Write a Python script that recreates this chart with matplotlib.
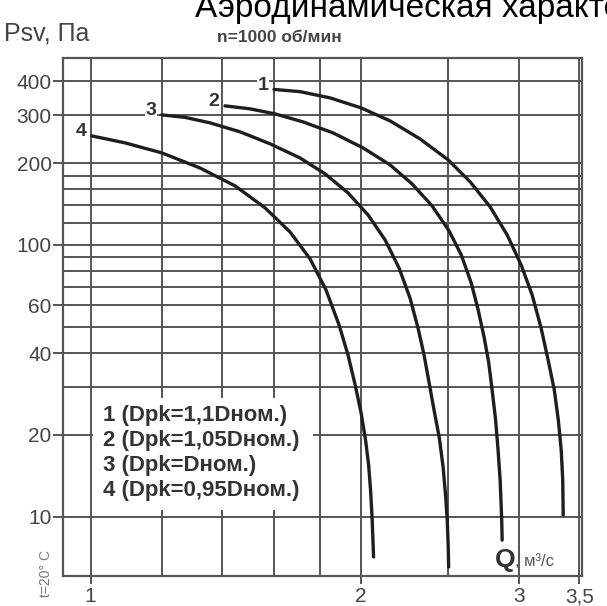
import matplotlib.pyplot as plt
from matplotlib.patches import Rectangle
from matplotlib.ticker import NullFormatter

plt.rcParams['font.family'] = ['Liberation Sans', 'DejaVu Sans']

# curve 1 (Dpk=1,1Dном.)
q1 = [1.600, 1.710, 1.847, 2.000, 2.154, 2.326, 2.500, 2.645, 2.784, 2.908,
      3.014, 3.100, 3.172, 3.230, 3.281, 3.315, 3.340, 3.353, 3.357]
p1 = [373.3, 366.4, 347.5, 319.3, 286.0, 245.5, 205.5, 170.6, 138.0, 108.8,
      84.4, 65.5, 49.5, 37.7, 29.3, 22.7, 17.6, 13.65, 10.15]
# curve 2 (Dpk=1,05Dном.)
q2 = [1.411, 1.504, 1.604, 1.723, 1.861, 2.010, 2.154, 2.279, 2.399, 2.506, 2.585,
      2.652, 2.700, 2.742, 2.773, 2.798, 2.823, 2.841, 2.856, 2.867, 2.871]
p2 = [324.8, 316.7, 303.5, 283.6, 258.4, 227.5, 197.0, 167.7, 139.2, 112.6, 91.9,
      72.5, 57.6, 45.5, 37.1, 29.3, 22.7, 17.6, 13.65, 9.97, 8.2]
# curve 3 (Dpk=Dном.)
q3 = [1.200, 1.274, 1.358, 1.467, 1.584, 1.710, 1.824, 1.934, 2.036, 2.127, 2.204,
      2.267, 2.314, 2.350, 2.380, 2.411, 2.443, 2.468, 2.484, 2.494, 2.500, 2.503]
p3 = [300.9, 294.6, 281.2, 260.6, 235.4, 209.0, 182.5, 155.4, 128.9, 104.3, 82.3,
      63.8, 49.5, 39.4, 31.3, 24.7, 19.65, 15.2, 11.8, 9.72, 7.87, 6.53]
# curve 4 (Dpk=0,95Dном.)
q4 = [1.003, 1.092, 1.200, 1.323, 1.448, 1.564, 1.667, 1.755, 1.828, 1.890,
      1.934, 1.970, 2.000, 2.023, 2.039, 2.049, 2.057, 2.065]
p4 = [251.8, 237.4, 218.1, 192.0, 164.9, 136.8, 111.6, 88.8, 68.3, 50.8,
      39.4, 30.5, 24.1, 19.15, 15.5, 12.54, 9.97, 7.11]

curve_names = ['1', '2', '3', '4']
legend_lines = ['1 (Dpk=1,1Dном.)', '2 (Dpk=1,05Dном.)', '3 (Dpk=Dном.)', '4 (Dpk=0,95Dном.)']

x_major = [1, 2, 3, 3.5]
x_labels = ['1', '2', '3', '3,5']
x_minor = [1.2, 1.4, 1.6, 1.8, 2.5]
y_major = [10, 20, 40, 60, 100, 200, 300, 400]
y_minor = [30, 50, 70, 80, 90, 120, 140, 160, 180]

W, H = 607, 606
fig = plt.figure(figsize=(W / 100, H / 100), dpi=100)
ax = fig.add_axes([62.7 / W, 1 - 576 / H, (581.7 - 62.7) / W, (576 - 57.8) / H])
ax.set_xscale('log')
ax.set_yscale('log')
ax.set_xlim(0.931, 3.52)
ax.set_ylim(6.05, 488)

gc = '#555555'
ax.set_xticks(x_major)
ax.set_xticklabels(x_labels)
ax.set_xticks(x_minor, minor=True)
ax.set_yticks(y_major)
ax.set_yticklabels([str(v) for v in y_major])
ax.set_yticks(y_minor, minor=True)
ax.xaxis.set_minor_formatter(NullFormatter())
ax.yaxis.set_minor_formatter(NullFormatter())
ax.grid(which='both', color=gc, lw=1.4)
ax.tick_params(which='minor', length=0)
ax.tick_params(axis='x', which='major', length=6, width=1.4, color=gc, labelsize=15,
               labelcolor='#444444', pad=2)
ax.tick_params(axis='y', which='major', length=7, width=1.4, color=gc, labelsize=15,
               labelcolor='#444444', pad=1)
for s in ax.spines.values():
    s.set_color(gc)
    s.set_linewidth(1.6)

# white box behind the legend text
ax.add_patch(Rectangle((0.0584, 0.1274), 0.424, 0.216, transform=ax.transAxes,
                       facecolor='white', edgecolor='none', zorder=2))

for q, p, nm in zip([q1, q2, q3, q4], [p1, p2, p3, p4], curve_names):
    ax.plot(q, p, color='#1e1e1e', lw=2.4, solid_capstyle='round', zorder=3)
    ax.annotate(nm, (q[0], p[0]), xytext=(-4, 3), textcoords='offset points',
                ha='right', va='center', fontsize=14, fontweight='bold', color='#333333',
                bbox=dict(facecolor='white', edgecolor='none', pad=0.5), zorder=4)

for i, t in enumerate(legend_lines):
    ax.text(0.0776, 0.3088 - i * 0.0482, t, transform=ax.transAxes, fontsize=16,
            fontweight='bold', color='#333333', va='center', ha='left', zorder=4)

fig.text(195 / W, 1 - 17.5 / H, 'Аэродинамическая характеристика', fontsize=24,
         color='black', va='baseline', ha='left')
fig.text(4 / W, 1 - 33 / H, 'Psv, Па', fontsize=18, color='#444444', va='center', ha='left')
fig.text(217 / W, 1 - 37 / H, 'n=1000 об/мин', fontsize=12.5, fontweight='bold',
         color='#444444', va='center', ha='left')
fig.text(495 / W, 1 - 560 / H, 'Q', fontsize=19, fontweight='bold', color='#333333',
         va='center', ha='left')
fig.text(515 / W, 1 - 562 / H, ', м³/с', fontsize=12, color='#555555', va='center', ha='left')
fig.text(46 / W, 1 - 550 / H, 't=20° C', fontsize=10, color='#777777', rotation=90,
         va='top', ha='center')

fig.savefig('out.png', dpi=100, facecolor='white')
